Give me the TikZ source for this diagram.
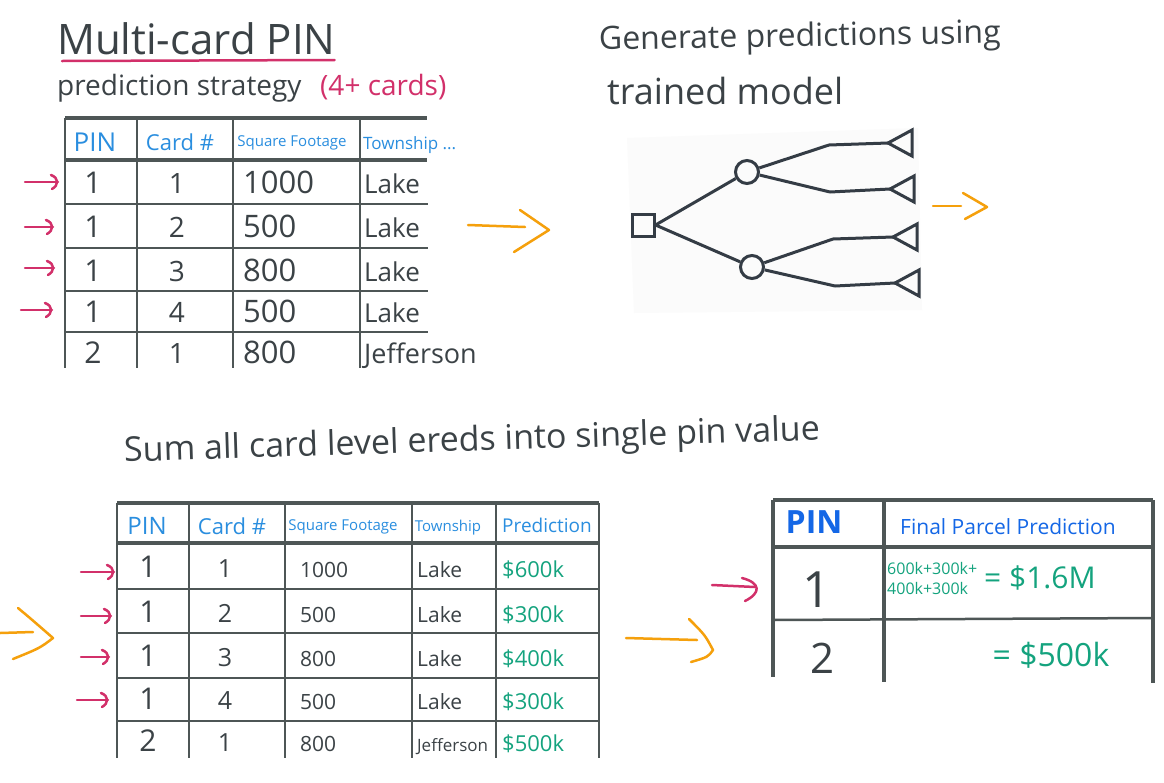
\documentclass[tikz,border=0pt]{standalone}
\usepackage{fontspec}
\setmainfont{Open Sans}
\usetikzlibrary{positioning, arrows.meta}

\definecolor{ink}{HTML}{3B4246}
\definecolor{gridc}{HTML}{4E5656}
\definecolor{hdrblue}{HTML}{2A8EDF}
\definecolor{pinblue}{HTML}{1467E6}
\definecolor{crimson}{HTML}{D2306A}
\definecolor{amber}{HTML}{F5A00C}
\definecolor{predgreen}{HTML}{14A37E}
\definecolor{treec}{HTML}{343C45}

\newcommand{\handsize}[1]{\fontsize{#1}{#1}\selectfont}

\begin{document}
\begin{tikzpicture}[
    % GLOBAL CFG
    x=1pt, y=-1pt,
    % Styles
    val/.style={% plain handwriting
        text=ink,
        inner sep=0pt,
        },
    hdr/.style={% column heads
        text=hdrblue,
        inner sep=0pt,
        },
    pred/.style={% predicted values
        text=predgreen,
        inner sep=0pt,
        },
    gridline/.style={
        draw=gridc,
        line width=2.5pt,
        },
    gridthick/.style={
        draw=gridc,
        line width=3.5pt,
        },
    redline/.style={% small pointers at the rows
        draw=crimson,
        line width=2.5pt,
        line cap=round,
        line join=round,
        },
    amberline/.style={
        draw=amber,
        line width=2.5pt,
        line cap=round,
        line join=round,
        },
    branch/.style={% decision tree
        draw=treec,
        line width=3pt,
        line join=round,
        },
    ]

    \useasboundingbox (0,0) rectangle (1164,782);
    \fill[white] (0,0) rectangle (1164,782);

    % Titles
    \node[val, font=\handsize{42}, anchor=base west] (title) at (57,54) {Multi-card PIN};
    \draw[crimson, line width=2.5pt, line cap=round] ([shift={(5pt,-7pt)}]title.base west) -- ([shift={(-1pt,-6pt)}]title.base east);
    \node[val, font=\handsize{28}, anchor=base west] (strategy) at (57,95) {prediction strategy};
    \node[val, text=crimson, font=\handsize{28}, anchor=base west] (cards) at (320,95) {(4+ cards)};

    \node[val, font=\handsize{32}, anchor=base west, rotate=1] (generate) at (599,50) {Generate predictions using};
    \node[val, font=\handsize{36}, anchor=base west] (trained) at (607,104) {trained model};

    \node[val, font=\handsize{34}, rotate=1.8] (sumall) at (472,442) {Sum all card level ereds into single pin value};

    % Table 1: card level rows
    \draw[gridthick] (65,118) -- (427,118);
    \draw[gridthick] (65,160) -- (427,160);
    \foreach \yy in {204,248,291,332}
        \draw[gridline] (65,\yy) -- (428,\yy);
    \foreach \xx in {65,137,233,360}
        \draw[gridline] (\xx,118) -- (\xx,368);

    \node[hdr, font=\handsize{26}] (h1pin) at (95,142) {PIN};
    \node[hdr, font=\handsize{22}] (h1card) at (180,142) {Card \#};
    \node[hdr, font=\handsize{15}] (h1sqft) at (292,143) {Square Footage};
    \node[hdr, font=\handsize{17}, anchor=west] (h1town) at (363,145) {Township ...};

    \foreach \pin/\card/\sqft/\town/\tsz/\yy [count=\r] in {1/1/1000/Lake/26/193, 1/2/500/Lake/26/237, 1/3/800/Lake/26/281, 1/4/500/Lake/26/322, 2/1/800/Jefferson/27/363}{
        \node[val, font=\handsize{30}, anchor=base] (a\r pin) at (93,\yy) {\pin};
        \node[val, font=\handsize{28}, anchor=base] (a\r card) at (177,\yy) {\card};
        \node[val, font=\handsize{31}, anchor=base west] (a\r sqft) at (243,\yy) {\sqft};
        \node[val, font=\handsize{\tsz}, anchor=base west] (a\r town) at (364,\yy) {\town};
    }

    \foreach \yy/\xs/\xe [count=\r] in {182/25/58, 227/25/53, 268/25/54, 310/21/52}{
        \coordinate (ra\r) at (\xs,\yy);
        \coordinate (rb\r) at (\xe,\yy);
        \draw[redline] (ra\r) -- (rb\r);
        \draw[redline, shift={(rb\r)}] (-7,-7) .. controls (1,-4) and (1,3) .. (-6,7);
    }

    % arrow to the model
    \coordinate (am1s) at (468,225);
    \coordinate (am1e) at (525,227);
    \coordinate (am1p) at (520,210);
    \coordinate (am1t) at (549,230);
    \coordinate (am1q) at (514,252);
    \draw[amberline] (am1s) -- (am1e);
    \draw[amberline] (am1p) -- (am1t) -- (am1q);

    % Decision tree
    \fill[black!1.5] (627,138) -- (918,128) -- (922,310) -- (634,313) -- cycle;
    \node[draw=treec, line width=3pt, minimum size=22pt, inner sep=0pt] (root) at (643,225) {};
    \node[circle, draw=treec, line width=3pt, minimum size=23pt, inner sep=0pt] (chance1) at (747,172) {};
    \node[circle, draw=treec, line width=3pt, minimum size=23pt, inner sep=0pt] (chance2) at (752,267) {};
    \coordinate (bend1) at (829,145);
    \coordinate (bend2) at (830,192);
    \coordinate (bend3) at (833,239);
    \coordinate (bend4) at (835,286);
    \coordinate (leaf1) at (888,143);
    \coordinate (leaf2) at (890,189);
    \coordinate (leaf3) at (893,237);
    \coordinate (leaf4) at (895,283);

    \draw[branch] (root.east) -- (chance1);
    \draw[branch] (root.east) -- (chance2);
    \draw[branch] (chance1) -- (bend1) -- (leaf1);
    \draw[branch] (chance1) -- (bend2) -- (leaf2);
    \draw[branch] (chance2) -- (bend3) -- (leaf3);
    \draw[branch] (chance2) -- (bend4) -- (leaf4);
    \foreach \n in {1,2,3,4}
        \draw[branch, line join=miter] (leaf\n) -- ++(24,-13) -- ++(0,26) -- cycle;

    % arrow out of the model
    \coordinate (am2s) at (933,206);
    \coordinate (am2e) at (961,206);
    \coordinate (am2p) at (963,193);
    \coordinate (am2t) at (987,207);
    \coordinate (am2q) at (965,219);
    \draw[amberline] (am2s) -- (am2e);
    \draw[amberline] (am2p) -- (am2t) -- (am2q);

    % arrow into table 2
    \coordinate (am3s) at (0,633);
    \coordinate (am3e) at (33,632);
    \coordinate (am3p) at (18,608);
    \coordinate (am3t) at (53,638);
    \coordinate (am3q) at (13,659);
    \draw[amberline] (am3s) -- (am3e);
    \draw[amberline] (am3p) .. controls (30,618) .. (am3t) .. controls (40,648) .. (am3q);

    % Table 2: card level predictions
    \draw[gridthick] (117,503) -- (599,503);
    \draw[gridthick] (117,543) -- (599,543);
    \foreach \yy in {589,633,678,721}
        \draw[gridline] (117,\yy) -- (600,\yy);
    \foreach \xx in {117,189,285,412,496,599}
        \draw[gridline] (\xx,503) -- (\xx,758);

    \node[hdr, font=\handsize{24}] (h2pin) at (147,526) {PIN};
    \node[hdr, font=\handsize{22}] (h2card) at (232,526) {Card \#};
    \node[hdr, font=\handsize{15}] (h2sqft) at (343,527) {Square Footage};
    \node[hdr, font=\handsize{15}] (h2town) at (448,528) {Township};
    \node[hdr, font=\handsize{19}] (h2pred) at (547,525) {Prediction};

    \foreach \pin/\card/\sqft/\town/\tsz/\price/\yy [count=\r] in {1/1/1000/Lake/21/600k/577, 1/2/500/Lake/21/300k/622, 1/3/800/Lake/21/400k/666, 1/4/500/Lake/21/300k/709, 2/1/800/Jefferson/17/500k/751}{
        \node[val, font=\handsize{30}, anchor=base] (b\r pin) at (148,\yy) {\pin};
        \node[val, font=\handsize{25}, anchor=base] (b\r card) at (225,\yy) {\card};
        \node[val, font=\handsize{21}, anchor=base west] (b\r sqft) at (300,\yy) {\sqft};
        \node[val, font=\handsize{\tsz}, anchor=base west] (b\r town) at (417,\yy) {\town};
        \node[pred, font=\handsize{22}, anchor=base west] (b\r price) at (502,\yy) {\$\price};
    }

    \foreach \yy/\xs/\xe [count=\r] in {572/81/114, 616/81/111, 657/81/109, 700/77/108}{
        \coordinate (rc\r) at (\xs,\yy);
        \coordinate (rd\r) at (\xe,\yy);
        \draw[redline] (rc\r) -- (rd\r);
        \draw[redline, shift={(rd\r)}] (-7,-7) .. controls (1,-4) and (1,3) .. (-6,7);
    }

    % arrow into table 3
    \coordinate (am4s) at (626,638);
    \coordinate (am4e) at (697,640);
    \coordinate (am4p) at (689,619);
    \coordinate (am4t) at (713,650);
    \coordinate (am4q) at (691,662);
    \draw[amberline] (am4s) -- (am4e);
    \draw[amberline] (am4p) .. controls (705,635) .. (am4t) .. controls (708,657) .. (am4q);

    % Table 3: parcel level
    \draw[gridthick] (773,500) -- (1153,500);
    \draw[gridthick] (773,547) -- (1153,547);
    \draw[gridline] (773,620) -- (1153,618);
    \draw[gridthick] (773,500) -- (773,677);
    \draw[gridthick] (884,500) -- (884,682);
    \draw[gridthick] (1153,500) -- (1153,683);

    \node[val, text=pinblue, font=\handsize{32}\bfseries] (h3pin) at (814,522) {PIN};
    \node[val, text=pinblue, font=\handsize{21}] (h3final) at (1008,527) {Final Parcel Prediction};

    \node[val, font=\handsize{50}] (c1pin) at (817,590) {1};
    \node[val, font=\handsize{42}] (c2pin) at (822,658) {2};
    \node[pred, font=\fontsize{16}{20}\selectfont, align=left, anchor=west] (c1sum) at (887,578) {600k+300k+\\400k+300k};
    \node[pred, font=\handsize{30}, anchor=west] (c1total) at (984,578) {= \$1.6M};
    \node[pred, font=\handsize{32}] (c2total) at (1051,655) {= \$500k};

    \coordinate (re1) at (712,585);
    \coordinate (rf1) at (755,587);
    \draw[redline] (re1) -- (rf1);
    \draw[redline, shift={(rf1)}] (-13,-9) .. controls (6,-4) and (6,6) .. (-10,14);

\end{tikzpicture}
\end{document}
